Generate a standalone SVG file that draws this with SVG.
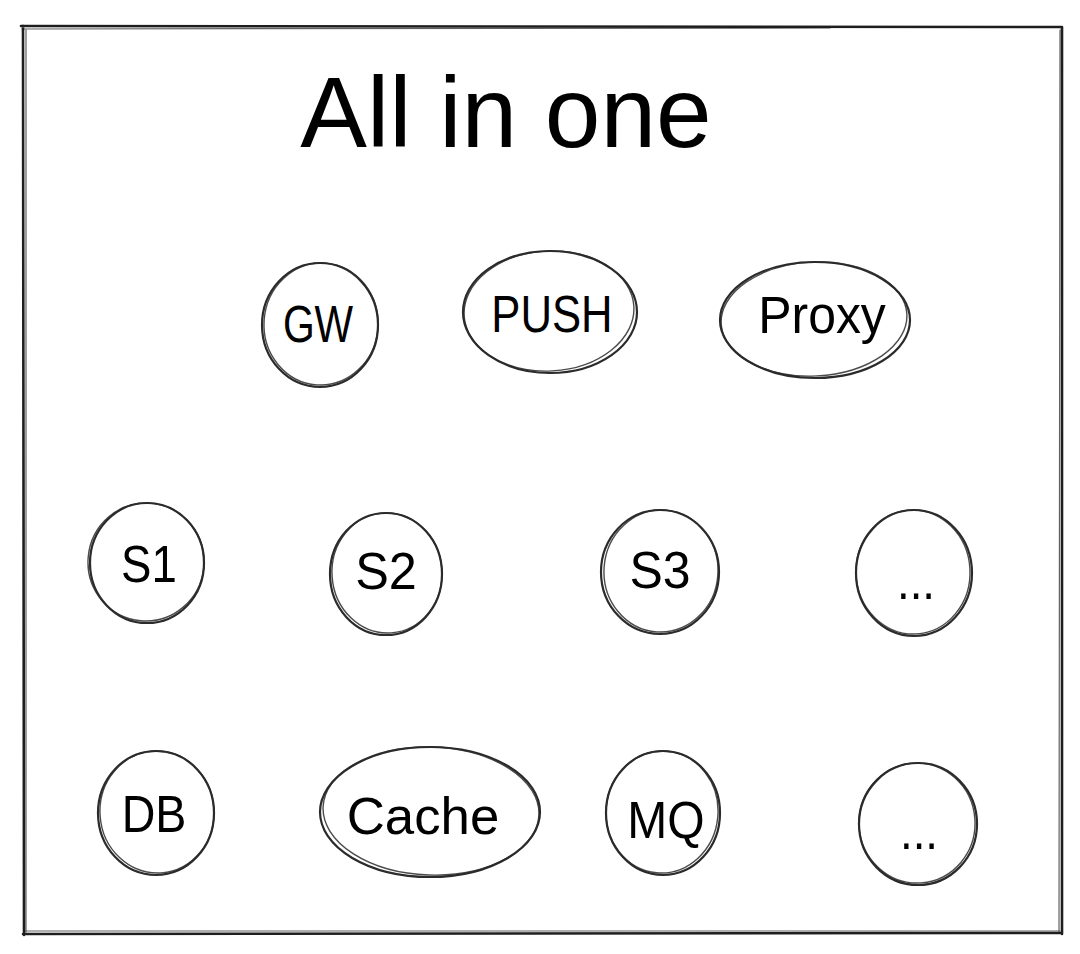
<svg xmlns="http://www.w3.org/2000/svg" width="1080" height="954" viewBox="0 0 1080 954">
<style>
.frame{fill:none;stroke:#1e1e1e;stroke-width:2.6;stroke-linecap:round}
.frame2{fill:none;stroke:#1e1e1e;stroke-width:1.2;opacity:.7;stroke-linecap:round}
.sk{fill:none;stroke:#2b2b2b;stroke-width:2.2}
.sk2{fill:none;stroke:#2b2b2b;stroke-width:1.4;opacity:.85}
.title{font-family:"Liberation Sans",Arial,sans-serif;font-size:100px;fill:#000;text-anchor:middle}
.lbl{font-family:"Liberation Sans",Arial,sans-serif;font-size:48px;fill:#000;text-anchor:middle}
</style>
<rect x="0" y="0" width="1080" height="954" fill="#fff"/>
<g id="frame">
<path class="frame" d="M21 26 L1062 27 M23 26 L24 935 M1062 27 L1062 934 M23 934 L1062 933"/>
<path class="frame2" d="M22 29 L830 28 M26 30 L26 932 M1060 30 L1059 932 M25 931 L1060 931"/>
</g>
<g id="title"><text class="title" x="506" y="147">All in one</text></g>
<g id="connectors"></g>
<g id="GW">
<ellipse class="sk" cx="320" cy="325" rx="58" ry="62"/>
<ellipse class="sk2" cx="321" cy="324" rx="57" ry="61" transform="rotate(4 321 324)"/>
<text class="lbl" transform="translate(318 342) scale(0.85 1.08)">GW</text>
</g>
<g id="PUSH">
<ellipse class="sk" cx="550" cy="312" rx="87" ry="61"/>
<ellipse class="sk2" cx="549" cy="311" rx="85" ry="60" transform="rotate(-3 549 311)"/>
<text class="lbl" transform="translate(552 332) scale(0.91 1.08)">PUSH</text>
</g>
<g id="Proxy">
<ellipse class="sk" cx="815" cy="320" rx="95" ry="58"/>
<ellipse class="sk2" cx="814" cy="319" rx="93" ry="57" transform="rotate(-3 814 319)"/>
<text class="lbl" transform="translate(822 333) scale(1.04 1.08)">Proxy</text>
</g>
<g id="S1">
<ellipse class="sk" cx="147" cy="563" rx="57" ry="60"/>
<ellipse class="sk2" cx="146" cy="562" rx="58" ry="59" transform="rotate(5 146 562)"/>
<text class="lbl" transform="translate(149 582) scale(0.95 1.08)">S1</text>
</g>
<g id="S2">
<ellipse class="sk" cx="386" cy="574" rx="56" ry="61"/>
<ellipse class="sk2" cx="387" cy="573" rx="55" ry="60" transform="rotate(-4 387 573)"/>
<text class="lbl" transform="translate(386 589) scale(1.05 1.08)">S2</text>
</g>
<g id="S3">
<ellipse class="sk" cx="660" cy="572" rx="59" ry="62"/>
<ellipse class="sk2" cx="661" cy="571" rx="57" ry="61" transform="rotate(4 661 571)"/>
<text class="lbl" transform="translate(660 588) scale(1.04 1.08)">S3</text>
</g>
<g id="more1">
<ellipse class="sk" cx="914" cy="573" rx="58" ry="63"/>
<ellipse class="sk2" cx="913" cy="572" rx="57" ry="62" transform="rotate(-3 913 572)"/>
<text class="lbl" transform="translate(916 599) scale(0.95 1.08)">...</text>
</g>
<g id="DB">
<ellipse class="sk" cx="156" cy="813" rx="58" ry="62"/>
<ellipse class="sk2" cx="157" cy="812" rx="57" ry="61" transform="rotate(-4 157 812)"/>
<text class="lbl" transform="translate(154 832) scale(0.97 1.08)">DB</text>
</g>
<g id="Cache">
<ellipse class="sk" cx="430" cy="812" rx="110" ry="65"/>
<ellipse class="sk2" cx="431" cy="811" rx="108" ry="64" transform="rotate(2 431 811)"/>
<text class="lbl" transform="translate(423 834) scale(1.1 1.08)">Cache</text>
</g>
<g id="MQ">
<ellipse class="sk" cx="663" cy="813" rx="57" ry="62"/>
<ellipse class="sk2" cx="662" cy="812" rx="56" ry="61" transform="rotate(5 662 812)"/>
<text class="lbl" transform="translate(666 838) scale(1 1.08)">MQ</text>
</g>
<g id="more2">
<ellipse class="sk" cx="918" cy="824" rx="59" ry="61"/>
<ellipse class="sk2" cx="917" cy="823" rx="58" ry="60" transform="rotate(-4 917 823)"/>
<text class="lbl" transform="translate(919 849) scale(0.95 1.08)">...</text>
</g>
</svg>
